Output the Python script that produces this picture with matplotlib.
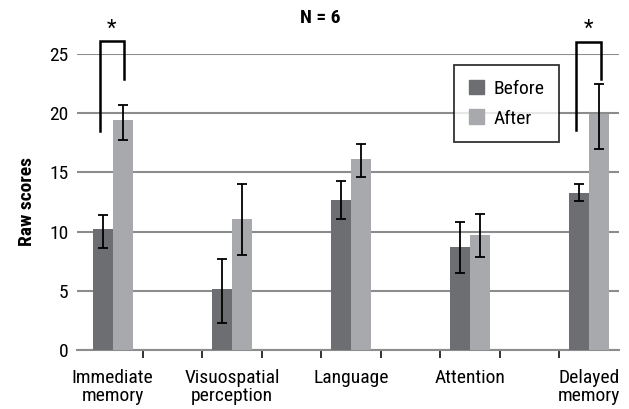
import numpy as np
import matplotlib
matplotlib.use("Agg")
import matplotlib.pyplot as plt
from matplotlib.patches import Patch

plt.rcParams['font.family'] = ['Roboto Condensed', 'Archivo Narrow', 'Liberation Sans', 'DejaVu Sans']

# data
categories = ["Immediate\nmemory", "Visuospatial\nperception", "Language", "Attention", "Delayed\nmemory"]
before = [10.2, 5.15, 12.65, 8.7, 13.3]
before_lo = [8.65, 2.3, 11.1, 6.5, 12.6]
before_hi = [11.4, 7.7, 14.3, 10.85, 14.05]
after = [19.4, 11.05, 16.1, 9.7, 19.9]
after_lo = [17.7, 8.0, 14.6, 7.85, 16.95]
after_hi = [20.7, 14.0, 17.4, 11.45, 22.45]
yticks = [0, 5, 10, 15, 20, 25]
# significance brackets: (group index, left bottom, top, right bottom)
brackets = [(0, 18.5, 26.1, 22.85), (4, 18.55, 26.05, 22.85)]

c_before = '#6d6e71'
c_after = '#a7a9ac'
fs = 14

fig = plt.figure(figsize=(6.29, 4.09), dpi=100)
ax = fig.add_axes([77/629, 1-350/409, 542/629, 296/409])

x = np.arange(len(categories))
w = 0.168
b = np.array(before)
a = np.array(after)
ax.bar(x - w/2, b, w, color=c_before, zorder=3)
ax.bar(x + w/2, a, w, color=c_after, zorder=3)
ax.errorbar(x - w/2, b, yerr=[b - np.array(before_lo), np.array(before_hi) - b],
            fmt='none', ecolor='black', elinewidth=1.3, capsize=3.5, capthick=1.3, zorder=4)
ax.errorbar(x + w/2, a, yerr=[a - np.array(after_lo), np.array(after_hi) - a],
            fmt='none', ecolor='black', elinewidth=1.3, capsize=3.5, capthick=1.3, zorder=4)

for i, lb, top, rb in brackets:
    xl = i - 0.11
    xr = i + 0.095
    ax.plot([xl, xl, xr, xr], [lb, top, top, rb], color='black', lw=1.8,
            clip_on=False, solid_joinstyle='miter', zorder=5)
    ax.text((xl + xr) / 2, top + 1.0, '*', ha='center', va='center',
            fontsize=16, clip_on=False)

ax.set_xlim(-0.30, 4.25)
ax.set_ylim(0, 25)
ax.set_yticks(yticks)
ax.yaxis.grid(True, color='#8c8c8c', lw=1.5, zorder=0)
ax.set_axisbelow(True)
ax.tick_params(axis='y', length=0, pad=6, labelsize=fs)

# category labels at group centres, tick marks between
ax.set_xticks(x)
ax.set_xticklabels(categories, fontsize=fs, linespacing=0.95)
ax.tick_params(axis='x', which='major', length=0, pad=14)
ax.set_xticks([0.25, 0.75, 1.25, 1.75, 2.25, 2.75, 3.25, 3.75], minor=True)
ax.tick_params(axis='x', which='minor', length=6, width=1.3, color='#222222', direction='out')

for s in ['top', 'right', 'left']:
    ax.spines[s].set_visible(False)
ax.spines['bottom'].set_color('#8c8c8c')
ax.spines['bottom'].set_linewidth(1.5)

ax.set_ylabel('Raw scores', fontsize=fs, fontweight='bold', labelpad=10)
fig.text(320/629, 1-18/409, 'N = 6', ha='center', va='center', fontsize=fs, fontweight='bold')

handles = [Patch(color=c_before, label='Before'), Patch(color=c_after, label='After')]
leg = ax.legend(handles=handles, loc='upper left', bbox_to_anchor=((454-77)/542, (350-65)/296),
                frameon=True, fancybox=False, edgecolor='black', fontsize=fs,
                handlelength=0.8, handleheight=0.8, borderpad=0.75, labelspacing=0.6,
                handletextpad=0.5, borderaxespad=0)
leg.get_frame().set_linewidth(1.3)

fig.savefig('out.png', dpi=100)
